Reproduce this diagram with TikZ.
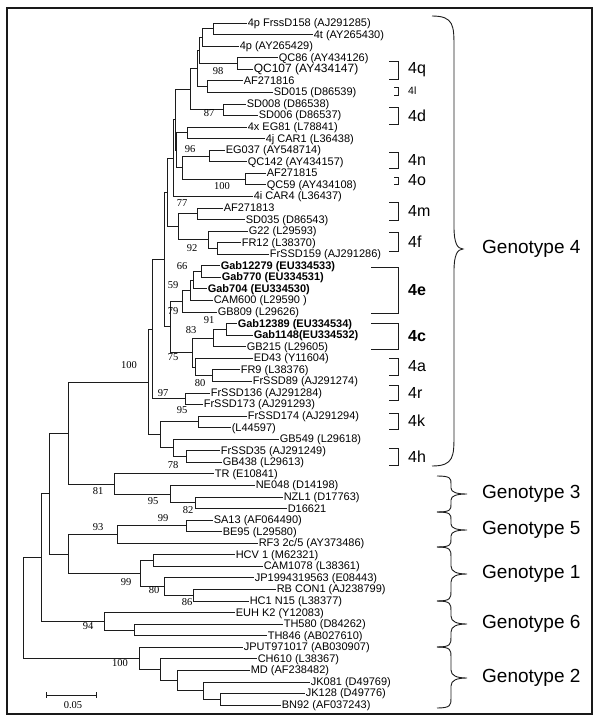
\documentclass[tikz,border=0pt]{standalone}
\usepackage{fontspec}
\setmainfont{Liberation Sans}
\newfontfamily\fuenteSoporte{Liberation Serif}
\usepackage{tikz}
\definecolor{grisrama}{HTML}{1C1C1C}
\colorlet{colRama}{grisrama}
\colorlet{colMarco}{grisrama!90!black}
\tikzset{
  rama/.style={draw=colRama, line width=0.8pt},
  hoja/.style={anchor=west, inner sep=0.6pt, font=\fontsize{11}{12}\selectfont,
    text height=8.5pt, text depth=1.5pt},
  soporte/.style={inner sep=0pt, font=\fuenteSoporte\fontsize{10.5}{11}\selectfont},
  corchete/.style={draw=colRama, line width=0.8pt},
  etiquetaSubtipo/.style={anchor=west, inner sep=0pt, font=\fontsize{16}{18}\selectfont},
  llave/.style={draw=colRama, line width=0.9pt},
  etiquetaGenotipo/.style={anchor=west, inner sep=0pt, font=\fontsize{19}{21}\selectfont},
  marco/.style={draw=colMarco, line width=1.4pt},
}

\begin{document}
\begin{tikzpicture}[x=1pt, y=-1pt]
    \useasboundingbox (0,0) rectangle (600,726);
    \draw[marco] (7,8) rectangle (592,714);

    % hojas del arbol
    \foreach \tip/\txt [count=\i] in {
        247/{4p FrssD158 (AJ291285)}, 313/{4t (AY265430)}, 239/{4p (AY265429)},
        278/{QC86 (AY434126)}, 253/{\fontsize{12}{13}\selectfont QC107 (AY434147)},
        243/{AF271816}, 273/{SD015 (D86539)}, 246/{SD008 (D86538)}, 258/{SD006 (D86537)},
        247/{4x EG81 (L78841)}, 265/{4j CAR1 (L36438)}, 225/{EG037 (AY548714)},
        247/{QC142 (AY434157)}, 266/{AF271815}, 266/{QC59 (AY434108)},
        253/{4i CAR4 (L36437)}, 223/{AF271813}, 245/{SD035 (D86543)},
        248/{G22 (L29593)}, 241/{FR12 (L38370)}, 269/{FrSSD159 (AJ291286)},
        220/{\bfseries Gab12279 (EU334533)}, 221/{\bfseries Gab770 (EU334531)},
        207/{\bfseries Gab704 (EU334530)}, 213/{CAM600 (L29590 )}, 217/{GB809 (L29626)},
        237/{\bfseries Gab12389 (EU334534)}, 253/{\bfseries Gab1148(EU334532)},
        246/{GB215 (L29605)}, 253/{ED43 (Y11604)}, 240/{FR9 (L38376)},
        252/{FrSSD89 (AJ291274)}, 210/{FrSSD136 (AJ291284)}, 203/{FrSSD173 (AJ291293)},
        247/{FrSSD174 (AJ291294)}, 231/{(L44597)}, 279/{GB549 (L29618)},
        220/{FrSSD35 (AJ291249)}, 222/{GB438 (L29613)}, 214/{TR (E10841)},
        255/{NE048 (D14198)}, 283/{NZL1 (D17763)}, 287/{D16621},
        213/{SA13 (AF064490)}, 222/{BE95 (L29580)}, 258/{RF3 2c/5 (AY373486)},
        235/{HCV 1 (M62321)}, 263/{CAM1078 (L38361)}, 254/{JP1994319563 (E08443)},
        276/{RB CON1 (AJ238799)}, 249/{HC1 N15 (L38377)}, 235/{EUH K2 (Y12083)},
        283/{TH580 (D84262)}, 267/{TH846 (AB027610)}, 243/{JPUT971017 (AB030907)},
        257/{CH610 (L38367)}, 250/{MD (AF238482)}, 310/{JK081 (D49769)},
        305/{JK128 (D49776)}, 281/{BN92 (AF037243)}}
      \node[hoja] (l\i) at (\tip, {23+11.56*(\i-1)}) {\txt};

    % nodos internos
    \foreach \n/\x/\y in {
        a1/213/28.78, a2/202/37.45, a3/237/63.46, a4/199/50.46, a5/207/86.58,
        a6/197/68.52, a7/223/109.70, a8/190/89.11, a9/187/132.82, a10/209/155.94,
        a11/245/179.06, a12/182/167.50, a13/176.5/150.16, a14/175/119.64,
        a15/173/158.02, a16/197/213.74, a17/217/248.42, a18/208/239.75,
        a19/178/226.75, a20/167.5/192.39, a21/201/271.54, a22/193/280.21,
        a23/190/290.33, a24/182/301.16, a25/226/329.34, a26/213/338.01,
        a27/212/375.58, a28/195/366.91, a29/192/352.46, a30/170/326.81,
        a31/164/259.60, a32/185/398.70, a33/152/329.15, a34/198/421.82,
        a35/186/456.50, a36/173/447.83, a37/160/434.83, a38/148/381.99,
        b1/195/502.74, b2/170/494.07, b3/114/483.96, r1/68/432.98,
        c1/186/525.86, c2/117/534.53, d1/153/560.54, d2/193/595.22,
        d3/164/586.55, d4/140/573.55, r2/68/554.04, r3/49/493.51,
        e1/134/629.90, e2/104/621.23, r4/41/557.37,
        f1/220/699.26, f2/203/690.59, f3/177/680.48, f4/160/669.64,
        f5/139/658.44, r5/23/607.91}
      \coordinate (\n) at (\x,\y);

    % ramas
    \foreach \p/\c in {
        a1/l1.west, a1/l2.west, a2/a1, a2/l3.west, a3/l4.west, a3/l5.west,
        a4/a2, a4/a3, a5/l6.west, a5/l7.west, a6/a4, a6/a5, a7/l8.west, a7/l9.west,
        a8/a6, a8/a7, a9/l10.west, a9/l11.west, a10/l12.west, a10/l13.west,
        a11/l14.west, a11/l15.west, a12/a10, a12/a11, a13/a9, a13/a12,
        a14/a8, a14/a13, a15/a14, a15/l16.west, a16/l17.west, a16/l18.west,
        a17/l20.west, a17/l21.west, a18/l19.west, a18/a17, a19/a16, a19/a18,
        a20/a15, a20/a19, a21/l22.west, a21/l23.west, a22/a21, a22/l24.west,
        a23/a22, a23/l25.west, a24/a23, a24/l26.west, a25/l27.west, a25/l28.west,
        a26/a25, a26/l29.west, a27/l31.west, a27/l32.west, a28/l30.west, a28/a27,
        a29/a26, a29/a28, a30/a24, a30/a29, a31/a20, a31/a30,
        a32/l33.west, a32/l34.west, a33/a31, a33/a32, a34/l35.west, a34/l36.west,
        a35/l38.west, a35/l39.west, a36/l37.west, a36/a35, a37/a34, a37/a36,
        a38/a33, a38/a37, b1/l42.west, b1/l43.west, b2/l41.west, b2/b1,
        b3/l40.west, b3/b2, r1/a38, r1/b3, c1/l44.west, c1/l45.west,
        c2/c1, c2/l46.west, d1/l47.west, d1/l48.west, d2/l50.west, d2/l51.west,
        d3/l49.west, d3/d2, d4/d1, d4/d3, r2/c2, r2/d4, r3/r1, r3/r2,
        e1/l53.west, e1/l54.west, e2/l52.west, e2/e1, r4/r3, r4/e2,
        f1/l59.west, f1/l60.west, f2/l58.west, f2/f1, f3/l57.west, f3/f2,
        f4/l56.west, f4/f3, f5/l55.west, f5/f4, r5/r4, r5/f5}
      \draw[rama] (\p) |- (\c);

    % valores de bootstrap
    \foreach \x/\y/\v [count=\k] in {
        218/71/98, 209/113/87, 190/149/96, 222/186/100, 182/203/77, 192/248/92,
        182/266/66, 173/285/59, 173/311/79, 209/320/91, 191/330/83, 173/357/75,
        200/383/80, 129/365/100, 163/393/97, 182/410/95, 173/465/78,
        98/491/81, 153/501/95, 188/510/82, 163/518/99, 98/527/93,
        126/582/99, 154/590/80, 187/602/86, 88/626/94, 120/663/100}
      \node[soporte] (bs\k) at (\x,\y) {\v};

    % subtipos
    \foreach \yt/\yb/\xl/\txt [count=\k] in {
        61/79/389/4q, 87/95/394/{\fontsize{10.5}{11}\selectfont 4l}, 107/124/389/4d,
        152/168/389/4n, 177/184/394/4o, 202/220/389/4m, 232/251/389/4f,
        267/313/371/{\bfseries 4e}, 323/349/371/{\bfseries 4c}, 358/375/389/4a,
        385/400/389/4r, 413/429/389/4k, 448/465/389/4h}
      {
        \draw[corchete] (\xl,\yt) -| (398,\yb) -- (\xl,\yb);
        \node[etiquetaSubtipo] (st\k) at (408, {(\yt+\yb)/2}) {\txt};
      }

    % genotipos
    \foreach \yt/\yb/\yp/\xb/\m/\w/\r/\t/\g in {
        16/466/249/432/22/31/32/22/4, 476/512/494/437/14/30/8/6/3,
        512/547/530/437/14/30/8/6/5, 547/601/574/437/14/30/10/8/1,
        601/647/624/437/14/30/10/8/6, 647/708/678/437/14/30/10/8/2}
      {
        \pgfmathsetmacro\xm{\xb+\m}
        \pgfmathsetmacro\xw{\xb+\w}
        \pgfmathsetmacro\xc{\xb+\m+0.35*(\w-\m)}
        \draw[llave] (\xb,\yt) .. controls (\xm,\yt) and (\xm,\yt+0.3*\r) .. (\xm,\yt+\r)
          -- (\xm,\yp-\t) .. controls (\xm,\yp-0.3*\t) and (\xc,\yp) .. (\xw,\yp)
          .. controls (\xc,\yp) and (\xm,\yp+0.3*\t) .. (\xm,\yp+\t)
          -- (\xm,\yb-\r) .. controls (\xm,\yb-0.3*\r) and (\xm,\yb) .. (\xb,\yb);
        \node[etiquetaGenotipo] (gt\g) at (482,\yp) {Genotype \g};
      }

    % escala
    \draw[rama] (46,692) -- (46,698) (46,695) -- (96,695) (96,692) -- (96,698);
    \node[soporte] (escala) at (73,705) {0.05};
  \end{tikzpicture}
\end{document}
